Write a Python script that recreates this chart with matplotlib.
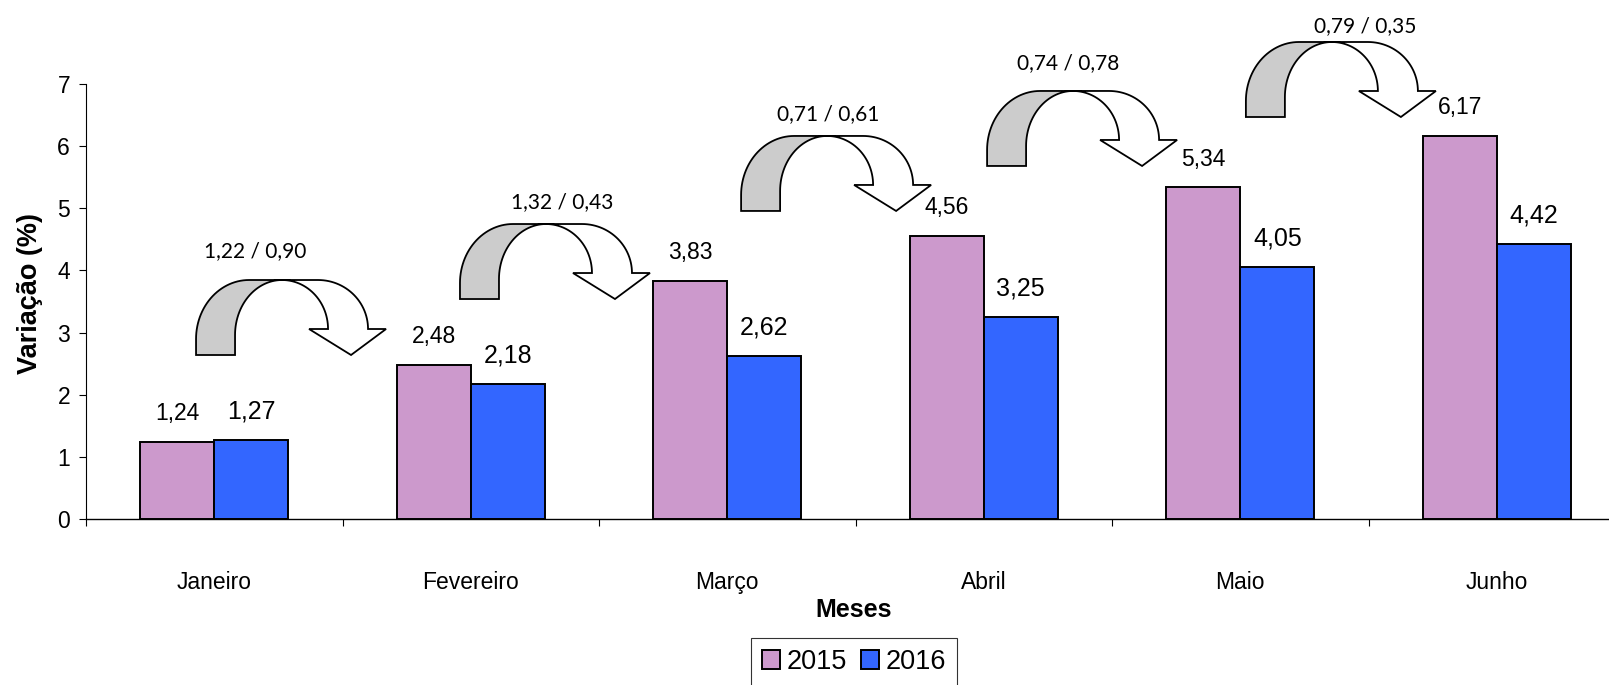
import numpy as np
import matplotlib
matplotlib.use("Agg")
import matplotlib.pyplot as plt
import matplotlib.transforms as mtransforms
from matplotlib.patches import Polygon, Patch

plt.rcParams['font.family'] = ['Liberation Sans', 'DejaVu Sans']

# dados
months = ['Janeiro', 'Fevereiro', 'Março', 'Abril', 'Maio', 'Junho']
v2015 = [1.24, 2.48, 3.83, 4.56, 5.34, 6.17]
v2016 = [1.27, 2.18, 2.62, 3.25, 4.05, 4.42]
arrow_labels = ['1,22 / 0,90', '1,32 / 0,43', '0,71 / 0,61', '0,74 / 0,78', '0,79 / 0,35']

# onde ficam as setas (canto inferior esquerdo) e os textos delas
arrow_pos = [(-0.071, 2.639), (0.958, 3.540), (2.054, 4.957), (3.013, 5.681), (4.022, 6.469)]
arrow_text_pos = [(0.161, 4.221), (1.358, 5.000), (2.393, 6.421), (3.330, 7.237), (4.486, 7.842)]

pink = '#CC99CC'
blue = '#3366FF'
gray = '#CCCCCC'

W, H = 1609, 685
fig = plt.figure(figsize=(W / 100, H / 100), dpi=100)
ax = fig.add_axes([86 / W, 166 / H, 1539 / W, 435 / H])

x = np.arange(len(months))
w = 0.2885
ax.bar(x - w / 2, v2015, w, color=pink, edgecolor='black', linewidth=1.4, zorder=2)
ax.bar(x + w / 2, v2016, w, color=blue, edgecolor='black', linewidth=1.4, zorder=2)

ax.set_xlim(-0.5, 5.5)
ax.set_ylim(0, 7)
for s in ['top', 'right']:
    ax.spines[s].set_visible(False)
ax.spines['left'].set_linewidth(0.8)
ax.spines['bottom'].set_linewidth(1.0)

ax.set_yticks(range(8))
ax.tick_params(axis='y', labelsize=16.5, length=5, width=0.8, pad=6.5)
ax.set_xticks(np.arange(-0.5, 6, 1))
ax.set_xticklabels([])
ax.tick_params(axis='x', length=5, width=0.8)

# nomes dos meses
for xi, m in zip(x, months):
    ax.annotate(m, (xi, 0), xytext=(0, -70 * 0.72), textcoords='offset points',
                ha='center', va='baseline', fontsize=16.5, annotation_clip=False)

# valores nas barras
def fmt(v):
    return f'{v:.2f}'.replace('.', ',')

for xi, v in zip(x, v2015):
    ax.annotate(fmt(v), (xi - w / 2, v), xytext=(0, 15.5), textcoords='offset points',
                ha='center', va='baseline', fontsize=16.5)
for xi, v in zip(x, v2016):
    ax.annotate(fmt(v), (xi + w / 2, v), xytext=(0, 15.5), textcoords='offset points',
                ha='center', va='baseline', fontsize=18)


def arc(cx, cy, rx, ry, t0, t1, n=30):
    t = np.radians(np.linspace(t0, t1, n))
    return np.column_stack([cx + rx * np.cos(t), cy + ry * np.sin(t)])


def curved_arrow(x0, y0):
    # forma em pixels, origem no canto de baixo da perna esquerda
    back = np.vstack([[[0, 0], [0, 16]],
                      arc(53, 16, 53, 59, 180, 90),
                      [[86, 75]],
                      arc(86, 20, 47, 55, 90, 180),
                      [[39, 0]]])
    front = np.vstack([[[86, 75], [122, 75]],
                       arc(122, 26, 50, 49, 90, 0),
                       [[190, 26], [155, 0], [113, 26], [132, 26]],
                       arc(86, 26, 46, 49, 0, 90)])
    tr = mtransforms.Affine2D().scale(fig.dpi / 100) + \
        mtransforms.ScaledTranslation(x0, y0, ax.transData)
    for pts, fc in [(back, gray), (front, 'white')]:
        p = Polygon(pts, closed=True, facecolor=fc, edgecolor='black',
                    linewidth=1.3, transform=tr, clip_on=False, zorder=3,
                    joinstyle='miter')
        ax.add_patch(p)


for (ax0, ay0), (tx, ty), lab in zip(arrow_pos, arrow_text_pos, arrow_labels):
    curved_arrow(ax0, ay0)
    ax.text(tx, ty, lab, ha='center', va='baseline', fontsize=15,
            family=['Lato', 'DejaVu Sans'], clip_on=False, zorder=4)

fig.text(30 / W, 1 - 293.5 / H, 'Variação (%)', rotation=90, ha='center', va='center',
         fontsize=19.5, fontweight='bold')
fig.text(854 / W, 1 - 617 / H, 'Meses', ha='center', va='baseline',
         fontsize=18, fontweight='bold')

handles = [Patch(facecolor=pink, edgecolor='black', linewidth=1.4),
           Patch(facecolor=blue, edgecolor='black', linewidth=1.4)]
leg = fig.legend(handles, ['2015', '2016'], loc='upper center',
                 bbox_to_anchor=(854 / W, 1 - 638 / H), ncol=2, frameon=True,
                 fancybox=False, edgecolor='black', fontsize=19.5,
                 handlelength=0.67, handleheight=0.67, handletextpad=0.25,
                 columnspacing=0.5, borderpad=0.4, borderaxespad=0)
leg.get_frame().set_linewidth(0.8)

fig.savefig('out.png', dpi=100)
